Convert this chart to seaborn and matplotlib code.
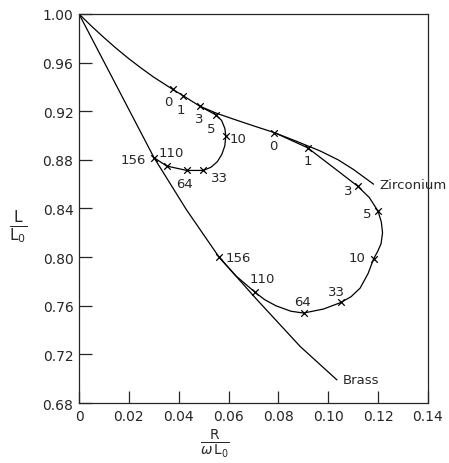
import matplotlib
matplotlib.use('Agg')
import matplotlib.pyplot as plt
import numpy as np
import pandas as pd
import seaborn as sns

# curve paths (R/wL0, L/L0)
zirc_x = [0, 0.005, 0.010, 0.015, 0.020, 0.025, 0.030, 0.0376, 0.0416, 0.0486, 0.055, 0.062,
          0.070, 0.0784, 0.087, 0.0968, 0.104, 0.1102, 0.1182]
zirc_y = [1.0, 0.990, 0.9806, 0.9716, 0.9632, 0.9554, 0.948, 0.938, 0.933, 0.924, 0.9185, 0.9135,
          0.908, 0.9024, 0.8955, 0.8873, 0.880, 0.872, 0.860]

loop1_x = [0.0486, 0.0549, 0.0572, 0.0585, 0.0589, 0.0585, 0.0573, 0.0555, 0.0530, 0.0499,
           0.0433, 0.0352, 0.0301]
loop1_y = [0.924, 0.917, 0.9125, 0.906, 0.8996, 0.8915, 0.8845, 0.8785, 0.874, 0.8713,
           0.8713, 0.8749, 0.8818]

loop2_x = [0.0784, 0.0917, 0.1021, 0.1118, 0.1165, 0.1200, 0.1213, 0.1218, 0.1212, 0.1198,
           0.1182, 0.1160, 0.1128, 0.1092, 0.1051, 0.0981, 0.0901, 0.0850, 0.0790, 0.0745,
           0.0707, 0.0630, 0.0562]
loop2_y = [0.9024, 0.890, 0.8737, 0.8584, 0.849, 0.8378, 0.829, 0.820, 0.811, 0.8045,
           0.7985, 0.7865, 0.7745, 0.7675, 0.7627, 0.7573, 0.754, 0.7555, 0.760, 0.765,
           0.771, 0.7845, 0.800]

brass_x = [0, 0.0301, 0.0431, 0.0562, 0.0714, 0.0888, 0.1035]
brass_y = [1.0, 0.8818, 0.839, 0.800, 0.765, 0.7264, 0.699]

# marked points with their labels
m1_labels = ['0', '1', '3', '5', '10', '33', '64', '110', '156']
m1_x = [0.0376, 0.0416, 0.0486, 0.0549, 0.0589, 0.0499, 0.0433, 0.0352, 0.0301]
m1_y = [0.9387, 0.9326, 0.9244, 0.917, 0.8996, 0.8713, 0.8713, 0.8749, 0.8818]

m2_labels = ['0', '1', '3', '5', '10', '33', '64', '110', '156']
m2_x = [0.0784, 0.0917, 0.1118, 0.1200, 0.1182, 0.1051, 0.0901, 0.0707, 0.0562]
m2_y = [0.9024, 0.890, 0.8584, 0.8378, 0.7985, 0.7627, 0.754, 0.771, 0.800]

xticks = [0, 0.02, 0.04, 0.06, 0.08, 0.10, 0.12, 0.14]
xtick_labels = ['0', '0.02', '0.04', '0.06', '0.08', '0.10', '0.12', '0.14']
yticks = [0.68, 0.72, 0.76, 0.80, 0.84, 0.88, 0.92, 0.96, 1.00]

sns.set_style('ticks')
plt.rcParams['font.family'] = ['DejaVu Sans']
plt.rcParams['mathtext.fontset'] = 'dejavusans'

fig = plt.figure(figsize=(4.49, 4.64), dpi=100)
ax = fig.add_axes([0.176, 0.1293, 0.777, 0.8384])

for cx, cy in [(zirc_x, zirc_y), (loop1_x, loop1_y), (loop2_x, loop2_y), (brass_x, brass_y)]:
    sns.lineplot(x=cx, y=cy, sort=False, estimator=None, color='black', lw=0.9, ax=ax)

pts = pd.DataFrame({'x': m1_x + m2_x, 'y': m1_y + m2_y})
sns.scatterplot(data=pts, x='x', y='y', marker='x', color='black', s=22, linewidth=0.9, ax=ax, zorder=3)

# label offsets in points
off1 = [(-3, -9), (-1, -9.5), (-1, -9), (-3, -10), (9, -2), (11.5, -5), (-1.5, -9.5), (3, 10), (-15, -1)]
off2 = [(-1, -9.5), (0, -9.5), (-6.5, -3), (-8, -1.5), (-12, 1), (-3, 8), (-1, 8.5), (5, 10), (13.5, -0.5)]
for lab, x, y, o in zip(m1_labels + m2_labels, m1_x + m2_x, m1_y + m2_y, off1 + off2):
    ax.annotate(lab, (x, y), xytext=o, textcoords='offset points',
                ha='center', va='center', fontsize=9.5)

ax.annotate('Zirconium', (zirc_x[-1], zirc_y[-1]), xytext=(4, 0), textcoords='offset points',
            ha='left', va='center', fontsize=9.5)
ax.annotate('Brass', (brass_x[-1], brass_y[-1]), xytext=(4, 0), textcoords='offset points',
            ha='left', va='center', fontsize=9.5)

ax.set_xlim(0, 0.14)
ax.set_ylim(0.68, 1.00)
ax.set_xticks(xticks)
ax.set_xticklabels(xtick_labels)
ax.set_yticks(yticks)
ax.set_yticklabels(['%.2f' % v for v in yticks])
ax.tick_params(direction='in', length=9, width=0.9, labelsize=10, pad=4, top=False, right=False)
for sp in ax.spines.values():
    sp.set_linewidth(0.9)
ax.set_xlabel('')
ax.set_ylabel('')

fig.text(0.04, 0.51, r'$\frac{\mathrm{L}}{\mathrm{L_0}}$', fontsize=16, ha='center', va='center')
fig.text(0.479, 0.043, r'$\frac{\mathrm{R}}{\omega\,\mathrm{L_0}}$', fontsize=14, ha='center', va='center')

fig.savefig('out.png', dpi=100)
